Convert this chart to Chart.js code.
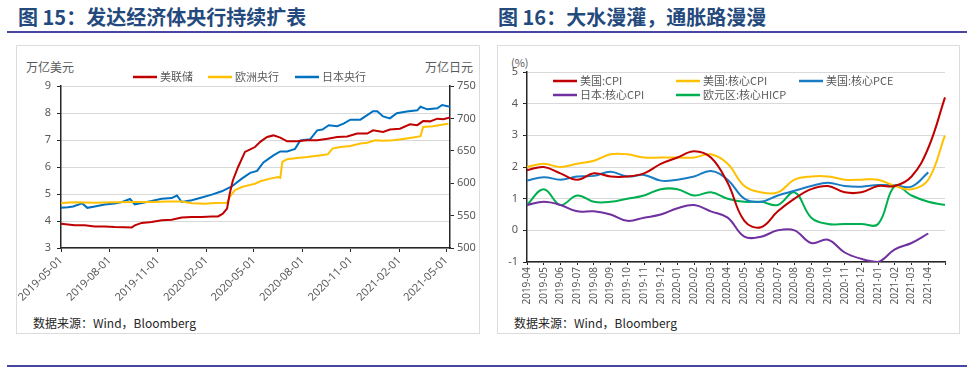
<!DOCTYPE html>
<html>
<head>
<meta charset="utf-8">
<script src="https://cdn.jsdelivr.net/npm/chart.js@4.4.1/dist/chart.umd.min.js"></script>
<style>
  body { margin: 0; width: 975px; height: 375px; background: #fff; position: relative; overflow: hidden;
         font-family: 'Noto Sans', 'Noto Sans CJK SC', sans-serif; }
  .title { position: absolute; top: 4px; font-size: 20px; line-height: 26px; font-weight: bold; color: #24497c;
           font-family: 'Noto Sans CJK SC', sans-serif; white-space: nowrap; }
  .rule { position: absolute; left: 7px; width: 960px; height: 2px; background: #4747a3; }
  .box { position: absolute; top: 45px; height: 289px; border: 1px solid #dcdcdc; box-sizing: border-box; }
  .unit { position: absolute; font-size: 12px; line-height: 16px; color: #595959; white-space: nowrap;
          font-family: 'Noto Sans CJK SC', sans-serif; }
  .src { position: absolute; top: 315px; font-size: 12px; line-height: 16px; color: #262626; white-space: nowrap;
         font-family: 'Noto Sans CJK SC', sans-serif; }
  canvas { position: absolute; }
</style>
</head>
<body>
<div class="title" style="left:18px">图 15：发达经济体央行持续扩表</div>
<div class="title" style="left:498px">图 16：大水漫灌，通胀路漫漫</div>
<div class="rule" style="top:31px"></div>
<div class="rule" style="top:365px"></div>
<div class="box" style="left:16px; width:464px"></div>
<div class="box" style="left:497px; width:463px"></div>
<div class="unit" style="left:26px; top:59px">万亿美元</div>
<div class="unit" style="right:502px; top:59px">万亿日元</div>
<div class="unit" style="left:511px; top:54px; font-size:11px">(%)</div>
<div class="src" style="left:33px">数据来源：Wind，Bloomberg</div>
<div class="src" style="left:514px">数据来源：Wind，Bloomberg</div>
<canvas id="left" width="464" height="262" style="left:16px; top:45px"></canvas>
<canvas id="right" width="463" height="262" style="left:497px; top:45px"></canvas>
<script>
// ---------- 图15 数据 ----------
var axisStart = '2019-05-01';
var axisEnd = '2021-05-08';
var tickDates = ['2019-05-01', '2019-08-01', '2019-11-01', '2020-02-01', '2020-05-01',
                 '2020-08-01', '2020-11-01', '2021-02-01', '2021-05-01'];

var fedDates = ['2019-05-01','2019-05-27','2019-06-15','2019-07-04','2019-07-23','2019-08-11','2019-08-30','2019-09-12','2019-09-18','2019-10-01',
                '2019-10-20','2019-11-08','2019-11-27','2019-12-16','2020-01-04','2020-01-23','2020-02-11','2020-02-23','2020-03-03','2020-03-11',
                '2020-03-16','2020-03-22','2020-04-01','2020-04-14','2020-04-24','2020-05-03','2020-05-13','2020-05-26','2020-06-07','2020-06-20',
                '2020-07-03','2020-07-22','2020-08-10','2020-08-29','2020-09-18','2020-10-06','2020-10-25','2020-11-13','2020-12-02','2020-12-13',
                '2021-01-01','2021-01-14','2021-02-02','2021-02-21','2021-03-07','2021-03-18','2021-03-31','2021-04-14','2021-04-25','2021-05-08'];
var fedValues = [3.90,3.84,3.84,3.80,3.80,3.78,3.77,3.76,3.84,3.93,
                 3.96,4.03,4.05,4.13,4.15,4.15,4.17,4.17,4.27,4.46,
                 5.00,5.50,6.00,6.56,6.65,6.74,6.93,7.11,7.17,7.09,
                 6.95,6.95,6.99,6.99,7.05,7.11,7.13,7.24,7.24,7.36,
                 7.30,7.39,7.42,7.58,7.55,7.70,7.69,7.79,7.77,7.83];

var ecbDates = ['2019-05-01','2019-05-27','2019-07-04','2019-08-11','2019-09-18','2019-10-20','2019-11-19','2019-12-16','2020-01-04','2020-01-29',
                '2020-02-17','2020-03-11','2020-03-16','2020-03-26','2020-04-08','2020-04-20','2020-05-03','2020-05-13','2020-06-01','2020-06-16',
                '2020-06-20','2020-06-24','2020-07-03','2020-07-22','2020-08-10','2020-08-29','2020-09-18','2020-09-27','2020-10-12','2020-10-31',
                '2020-11-19','2020-12-02','2020-12-17','2021-01-01','2021-01-20','2021-02-08','2021-02-27','2021-03-13','2021-03-18','2021-04-06',
                '2021-04-25','2021-05-05'];
var ecbValues = [4.67,4.69,4.68,4.69,4.70,4.70,4.72,4.72,4.66,4.64,
                 4.67,4.68,4.89,5.14,5.26,5.32,5.38,5.47,5.57,5.63,
                 5.60,6.19,6.29,6.33,6.37,6.42,6.47,6.68,6.74,6.78,
                 6.87,6.90,6.99,6.97,6.99,7.04,7.09,7.14,7.48,7.51,
                 7.57,7.60];

var bojDates = ['2019-05-01','2019-05-14','2019-05-24','2019-06-10','2019-06-20','2019-07-04','2019-07-23','2019-08-11','2019-08-25','2019-09-09',
                '2019-09-18','2019-10-01','2019-10-20','2019-11-08','2019-11-27','2019-12-07','2019-12-16','2020-01-04','2020-01-23','2020-02-11',
                '2020-03-01','2020-03-20','2020-04-08','2020-04-24','2020-05-07','2020-05-19','2020-06-07','2020-06-20','2020-07-03','2020-07-18',
                '2020-07-28','2020-08-16','2020-08-29','2020-09-08','2020-09-20','2020-10-06','2020-10-18','2020-10-31','2020-11-19','2020-12-02',
                '2020-12-13','2020-12-21','2021-01-01','2021-01-14','2021-01-27','2021-02-15','2021-03-07','2021-03-13','2021-03-26','2021-04-14',
                '2021-04-23','2021-05-08'];
var bojValues = [562,563,564,569,562,564,567,568.5,571,575.6,
                 567.4,569.4,572.5,576,577,581,571,573.6,578,582.4,
                 587.5,595,607,616,619,632,643,649,649,653,
                 666,668,681.6,682.7,689.4,688,692,698,698,705,
                 711,711,703,700,708,710.5,712.5,718,714,715.6,
                 720.7,718];

// ---------- 图16 数据 ----------
var months = ['2019-04','2019-05','2019-06','2019-07','2019-08','2019-09','2019-10','2019-11','2019-12',
              '2020-01','2020-02','2020-03','2020-04','2020-05','2020-06','2020-07','2020-08','2020-09',
              '2020-10','2020-11','2020-12','2021-01','2021-02','2021-03','2021-04','2021-05'];
var usCpi       = [1.9,2.0,1.8,1.6,1.8,1.7,1.7,1.8,2.1,2.3,2.5,2.3,1.5,0.3,0.1,0.6,1.0,1.3,1.4,1.2,1.2,1.4,1.4,1.7,2.6,4.2];
var usCoreCpi   = [2.0,2.1,2.0,2.1,2.2,2.4,2.4,2.3,2.3,2.3,2.3,2.4,2.1,1.4,1.2,1.2,1.6,1.7,1.7,1.6,1.6,1.6,1.4,1.3,1.6,3.0];
var usCorePce   = [1.57,1.68,1.6,1.7,1.72,1.85,1.7,1.75,1.57,1.6,1.7,1.87,1.6,1.0,0.9,1.1,1.25,1.4,1.5,1.4,1.38,1.43,1.42,1.38,1.83];
var jpCoreCpi   = [0.8,0.9,0.8,0.6,0.6,0.5,0.3,0.4,0.5,0.7,0.8,0.6,0.4,-0.2,-0.2,0.0,0.0,-0.4,-0.3,-0.7,-0.9,-1.0,-0.6,-0.4,-0.1];
var euCoreHicp  = [0.8,1.3,0.8,1.1,0.9,0.9,1.0,1.1,1.3,1.3,1.1,1.2,1.0,0.9,0.9,0.8,1.2,0.4,0.2,0.2,0.2,0.2,1.4,1.1,0.9,0.8];

var FONT = "'Noto Sans', 'Noto Sans CJK SC', sans-serif";
var GREY = '#595959';
var GRID = '#d9d9d9';
var AXIS = '#262626';

function dayOf(s) {
    return (Date.parse(s) - Date.parse(axisStart)) / 86400000;
}
function points(dates, values) {
    return dates.map(function(d, i) { return { x: dayOf(d), y: values[i] }; });
}

// 图例：短线 + 文字，画在指定位置
var lineLegend = {
    id: 'lineLegend',
    afterDraw: function(chart, args, opts) {
        var ctx = chart.ctx;
        ctx.save();
        ctx.font = opts.font;
        ctx.textBaseline = 'middle';
        chart.data.datasets.forEach(function(ds, i) {
            var p = opts.spots[i];
            ctx.strokeStyle = ds.borderColor;
            ctx.lineWidth = 2.5;
            ctx.beginPath();
            ctx.moveTo(p[0], p[1]);
            ctx.lineTo(p[0] + 24, p[1]);
            ctx.stroke();
            ctx.fillStyle = GREY;
            ctx.fillText(ds.label, p[0] + 27, p[1]);
        });
        ctx.restore();
    }
};

Chart.defaults.font.family = FONT;
Chart.defaults.color = GREY;

// ---------- 图15 ----------
new Chart(document.getElementById('left'), {
    type: 'line',
    data: {
        datasets: [
            { label: '美联储', data: points(fedDates, fedValues), yAxisID: 'y', borderColor: '#c00000', borderWidth: 2, pointRadius: 0, tension: 0 },
            { label: '欧洲央行', data: points(ecbDates, ecbValues), yAxisID: 'y', borderColor: '#ffc000', borderWidth: 2, pointRadius: 0, tension: 0 },
            { label: '日本央行', data: points(bojDates, bojValues), yAxisID: 'y1', borderColor: '#0070c0', borderWidth: 2, pointRadius: 0, tension: 0 }
        ]
    },
    options: {
        responsive: false,
        animation: false,
        layout: { padding: { top: 41, left: 0, right: 0, bottom: 0 } },
        plugins: {
            legend: { display: false },
            tooltip: { enabled: false },
            lineLegend: {
                font: "11px 'Noto Sans CJK SC'",
                spots: [[117, 32], [192, 32], [279, 32]]
            }
        },
        scales: {
            x: {
                type: 'linear',
                min: 0,
                max: dayOf(axisEnd),
                afterBuildTicks: function(scale) {
                    scale.ticks = tickDates.map(function(d) { return { value: dayOf(d) }; });
                },
                afterFit: function(scale) { scale.height = 59; },
                ticks: {
                    autoSkip: false,
                    minRotation: 45,
                    maxRotation: 45,
                    padding: 2,
                    font: { size: 11 },
                    callback: function(v, i) { return tickDates[i]; }
                },
                grid: { drawOnChartArea: false, tickLength: 4, tickColor: AXIS },
                border: { color: AXIS, width: 1.5 }
            },
            y: {
                position: 'left',
                min: 3,
                max: 9,
                afterFit: function(scale) { scale.width = 45; },
                ticks: { stepSize: 1, padding: 6, font: { size: 11 } },
                grid: { color: GRID, tickLength: 4, tickColor: AXIS },
                border: { color: AXIS, width: 1.5 }
            },
            y1: {
                position: 'right',
                min: 500,
                max: 750,
                afterFit: function(scale) { scale.width = 30; },
                ticks: { stepSize: 50, padding: 3, font: { size: 11 } },
                grid: { drawOnChartArea: false, tickLength: 4, tickColor: AXIS },
                border: { color: AXIS, width: 1.5 }
            }
        }
    },
    plugins: [lineLegend]
});

// ---------- 图16 ----------
new Chart(document.getElementById('right'), {
    type: 'line',
    data: {
        labels: months,
        datasets: [
            { label: '美国:CPI', data: usCpi, borderColor: '#c00000' },
            { label: '美国:核心CPI', data: usCoreCpi, borderColor: '#ffc000' },
            { label: '美国:核心PCE', data: usCorePce, borderColor: '#1a7dc4' },
            { label: '日本:核心CPI', data: jpCoreCpi, borderColor: '#7030a0' },
            { label: '欧元区:核心HICP', data: euCoreHicp, borderColor: '#00b050' }
        ].map(function(ds) {
            ds.borderWidth = 2;
            ds.pointRadius = 0;
            ds.tension = 0.4;
            return ds;
        })
    },
    options: {
        responsive: false,
        animation: false,
        layout: { padding: { top: 27, left: 0, right: 15, bottom: 0 } },
        plugins: {
            legend: { display: false },
            tooltip: { enabled: false },
            lineLegend: {
                font: "11px 'Noto Sans CJK SC'",
                spots: [[56, 36], [179, 36], [302, 36], [56, 50], [179, 50]]
            }
        },
        scales: {
            x: {
                type: 'category',
                offset: false,
                afterFit: function(scale) { scale.height = 45; },
                ticks: {
                    autoSkip: false,
                    minRotation: 90,
                    maxRotation: 90,
                    padding: 2,
                    font: { size: 10 },
                    callback: function(v, i) { return i === months.length - 1 ? '' : months[i]; }
                },
                grid: { drawOnChartArea: false, tickLength: 3, tickColor: AXIS },
                border: { color: AXIS, width: 1.5 }
            },
            y: {
                min: -1,
                max: 5,
                afterFit: function(scale) { scale.width = 30; },
                ticks: { stepSize: 1, padding: 5, font: { size: 11 } },
                grid: { color: GRID, tickLength: 4, tickColor: AXIS },
                border: { color: AXIS, width: 1.5 }
            }
        }
    },
    plugins: [lineLegend]
});
</script>
</body>
</html>
